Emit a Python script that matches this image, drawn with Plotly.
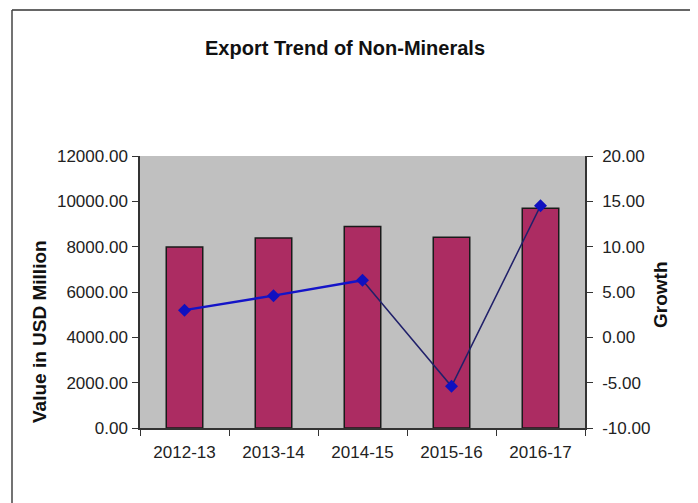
import plotly.graph_objects as go

years = ["2012-13", "2013-14", "2014-15", "2015-16", "2016-17"]
export_value = [7990, 8380, 8890, 8410, 9700]
growth = [3.0, 4.6, 6.3, -5.4, 14.5]

left_ticks = [0, 2000, 4000, 6000, 8000, 10000, 12000]
left_labels = ["0.00", "2000.00", "4000.00", "6000.00", "8000.00", "10000.00", "12000.00"]
right_ticks = [-10, -5, 0, 5, 10, 15, 20]
right_labels = ["-10.00", "-5.00", "0.00", "5.00", "10.00", "15.00", "20.00"]

# page body has an 8px margin
OFF = 8
W, H = 698 - OFF, 503 - OFF
L, R, T, B = 140, 585, 156, 428  # plot area in window pixels

def px(x):
    return (x - L) / (R - L)

def py(y):
    return (B - y) / (B - T)

FONT = "Arial, Liberation Sans, sans-serif"

fig = go.Figure()
fig.add_trace(go.Bar(
    x=years, y=export_value, name="Value",
    marker=dict(color="#AC2C62", line=dict(color="#1a1a1a", width=1.5)),
    yaxis="y",
))
fig.add_trace(go.Scatter(
    x=years[:3], y=growth[:3], mode="lines",
    line=dict(color="#1414C8", width=2.5), yaxis="y2", showlegend=False,
))
fig.add_trace(go.Scatter(
    x=years[2:], y=growth[2:], mode="lines",
    line=dict(color="#20206A", width=1.5), yaxis="y2", showlegend=False,
))
fig.add_trace(go.Scatter(
    x=years, y=growth, mode="markers",
    marker=dict(symbol="diamond", color="#1010C0", size=10),
    yaxis="y2", showlegend=False,
))

fig.update_layout(
    width=W, height=H,
    margin=dict(l=L - OFF, r=W - (R - OFF), t=T - OFF, b=H - (B - OFF)),
    paper_bgcolor="white",
    plot_bgcolor="#C0C0C0",
    showlegend=False,
    bargap=0.59,
    font=dict(family=FONT, size=17, color="#222222"),
    xaxis=dict(
        type="category", showgrid=False, zeroline=False,
        showline=True, linecolor="#333333", linewidth=1.5,
        ticks="outside", ticklen=6, tickcolor="#333333",
        tickson="boundaries", tickfont=dict(size=17),
        ticklabelstandoff=8,
    ),
    yaxis=dict(
        range=[0, 12000], tickvals=left_ticks, ticktext=left_labels,
        showgrid=False, zeroline=False,
        showline=True, linecolor="#333333", linewidth=1.5,
        ticks="outside", ticklen=6, tickcolor="#333333",
        ticklabelstandoff=1, tickfont=dict(size=17),
    ),
    yaxis2=dict(
        range=[-10, 20], tickvals=right_ticks, ticktext=right_labels,
        overlaying="y", side="right",
        showgrid=False, zeroline=False,
        showline=True, linecolor="#333333", linewidth=1.5,
        ticks="outside", ticklen=6, tickcolor="#333333",
        ticklabelstandoff=6, tickfont=dict(size=17),
    ),
    annotations=[
        dict(text="<b>Export Trend of Non-Minerals</b>", xref="paper", yref="paper",
             x=px(345), y=py(48), xanchor="center", yanchor="middle",
             showarrow=False, font=dict(size=20, color="#111111", family=FONT)),
        dict(text="<b>Value in USD Million</b>", xref="paper", yref="paper",
             x=px(39), y=py(332), xanchor="center", yanchor="middle", textangle=-90,
             showarrow=False, font=dict(size=19, color="#111111", family=FONT)),
        dict(text="<b>Growth</b>", xref="paper", yref="paper",
             x=px(660), y=py(295), xanchor="center", yanchor="middle", textangle=-90,
             showarrow=False, font=dict(size=19, color="#111111", family=FONT)),
    ],
    shapes=[
        dict(type="line", xref="paper", yref="paper", x0=px(12), x1=px(698), y0=py(10), y1=py(10),
             line=dict(color="#666666", width=2)),
        dict(type="line", xref="paper", yref="paper", x0=px(12), x1=px(12), y0=py(10), y1=py(503),
             line=dict(color="#444444", width=1.5)),
        dict(type="line", xref="paper", yref="paper", x0=px(695), x1=px(695), y0=py(62), y1=py(120),
             line=dict(color="#444444", width=1.5)),
        dict(type="line", xref="paper", yref="paper", x0=px(695), x1=px(695), y0=py(465), y1=py(503),
             line=dict(color="#444444", width=1.5)),
    ],
)

fig.write_html("out.html")
